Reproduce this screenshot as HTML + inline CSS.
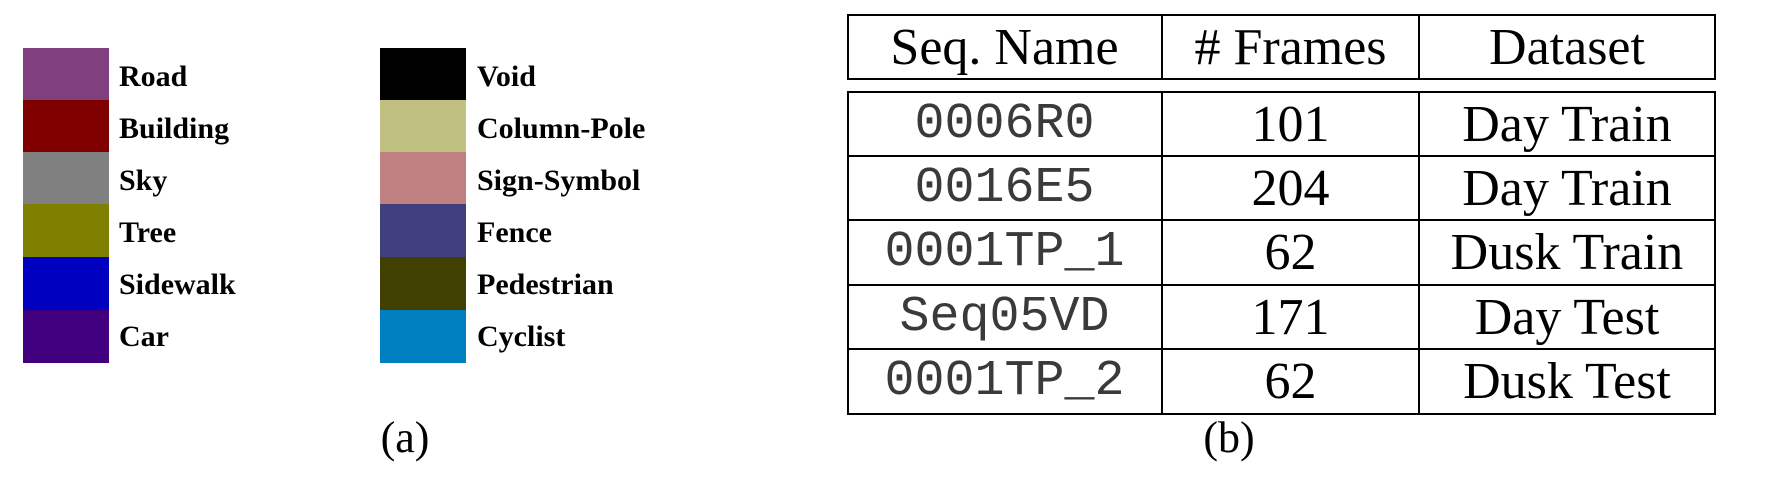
<!DOCTYPE html>
<html><head><meta charset="utf-8"><style>
body{margin:0;width:1777px;height:480px;background:#fff;position:relative;overflow:hidden;font-family:"Liberation Serif",serif;}
.sw{position:absolute;width:86px;height:53px;}
.lb{position:absolute;font-weight:bold;font-size:30px;line-height:30px;}
.t{position:absolute;border:2px solid #000;box-sizing:border-box;}
.c{position:absolute;display:flex;align-items:center;justify-content:center;font-size:52px;}
.m{font-family:"Liberation Mono",monospace;font-size:50px;color:#3a3a3a;}
.v{position:absolute;width:2px;background:#000;}
.h{position:absolute;height:2px;background:#000;left:847px;width:867px;}
</style></head><body>
<div class="sw" style="left:23px;top:48px;background:#804080"></div>
<div class="sw" style="left:23px;top:100px;background:#800000"></div>
<div class="sw" style="left:23px;top:152px;background:#808080"></div>
<div class="sw" style="left:23px;top:204px;background:#808000"></div>
<div class="sw" style="left:23px;top:257px;background:#0000c0"></div>
<div class="sw" style="left:23px;top:310px;background:#400080"></div>
<div class="sw" style="left:380px;top:48px;background:#000"></div>
<div class="sw" style="left:380px;top:100px;background:#c0c080"></div>
<div class="sw" style="left:380px;top:152px;background:#c08080"></div>
<div class="sw" style="left:380px;top:204px;background:#404080"></div>
<div class="sw" style="left:380px;top:257px;background:#404000"></div>
<div class="sw" style="left:380px;top:310px;background:#0080c0"></div>
<div class="lb" style="left:119px;top:62px">Road</div>
<div class="lb" style="left:119px;top:114px">Building</div>
<div class="lb" style="left:119px;top:166px">Sky</div>
<div class="lb" style="left:119px;top:218px">Tree</div>
<div class="lb" style="left:119px;top:270px">Sidewalk</div>
<div class="lb" style="left:119px;top:322px">Car</div>
<div class="lb" style="left:477px;top:62px">Void</div>
<div class="lb" style="left:477px;top:114px">Column-Pole</div>
<div class="lb" style="left:477px;top:166px">Sign-Symbol</div>
<div class="lb" style="left:477px;top:218px">Fence</div>
<div class="lb" style="left:477px;top:270px">Pedestrian</div>
<div class="lb" style="left:477px;top:322px">Cyclist</div>
<div class="c" style="left:355px;top:413px;width:100px;height:48px;font-size:44px">(a)</div>

<div class="t" style="left:847px;top:14px;width:869px;height:66px"></div>
<div class="t" style="left:847px;top:91px;width:869px;height:324px"></div>
<div class="v" style="left:1161px;top:14px;height:66px"></div>
<div class="v" style="left:1418px;top:14px;height:66px"></div>
<div class="v" style="left:1161px;top:91px;height:324px"></div>
<div class="v" style="left:1418px;top:91px;height:324px"></div>
<div class="h" style="top:155px"></div>
<div class="h" style="top:219px"></div>
<div class="h" style="top:284px"></div>
<div class="h" style="top:348px"></div>

<div class="c" style="left:847px;top:14px;width:315px;height:66px">Seq. Name</div>
<div class="c" style="left:1162px;top:14px;width:257px;height:66px"># Frames</div>
<div class="c" style="left:1419px;top:14px;width:296px;height:66px">Dataset</div>

<div class="c m" style="left:847px;top:92px;width:315px;height:64px">0006R0</div>
<div class="c" style="left:1162px;top:92px;width:257px;height:64px">101</div>
<div class="c" style="left:1419px;top:92px;width:296px;height:64px">Day Train</div>
<div class="c m" style="left:847px;top:156px;width:315px;height:64px">0016E5</div>
<div class="c" style="left:1162px;top:156px;width:257px;height:64px">204</div>
<div class="c" style="left:1419px;top:156px;width:296px;height:64px">Day Train</div>
<div class="c m" style="left:847px;top:220px;width:315px;height:65px">0001TP_1</div>
<div class="c" style="left:1162px;top:220px;width:257px;height:65px">62</div>
<div class="c" style="left:1419px;top:220px;width:296px;height:65px">Dusk Train</div>
<div class="c m" style="left:847px;top:285px;width:315px;height:64px">Seq05VD</div>
<div class="c" style="left:1162px;top:285px;width:257px;height:64px">171</div>
<div class="c" style="left:1419px;top:285px;width:296px;height:64px">Day Test</div>
<div class="c m" style="left:847px;top:349px;width:315px;height:65px">0001TP_2</div>
<div class="c" style="left:1162px;top:349px;width:257px;height:65px">62</div>
<div class="c" style="left:1419px;top:349px;width:296px;height:65px">Dusk Test</div>
<div class="c" style="left:1179px;top:413px;width:100px;height:48px;font-size:44px">(b)</div>
</body></html>
